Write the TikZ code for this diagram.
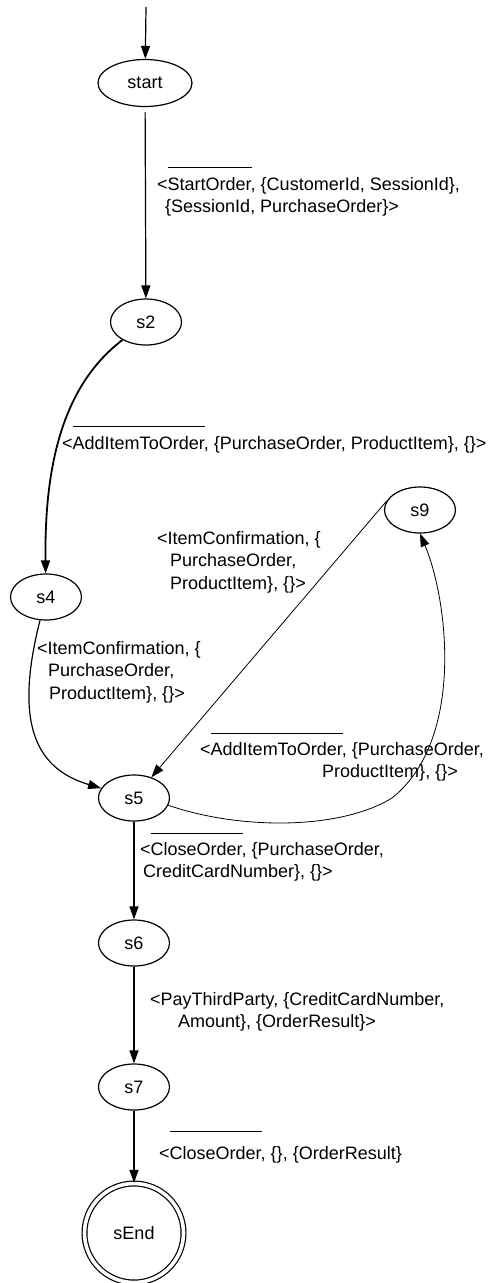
\documentclass[tikz,border=0pt]{standalone}
\usepackage{fontspec}
\setmainfont{Liberation Sans}
\usepackage{tikz}
\usetikzlibrary{arrows.meta}
\usetikzlibrary{shapes.geometric}
\tikzset{>={Triangle[length=13pt, width=9pt]}}
\tikzstyle{st} = [ellipse, draw=black, line width=1.2pt, minimum width=71pt, minimum height=46pt, inner sep=0]
\tikzstyle{lbl} = [draw=none, anchor=north west, inner sep=0, align=left]
\newlength{\olen}
\newcommand{\outmsg}[2][9pt]{\settowidth{\olen}{#2}\rlap{\raisebox{\dimexpr 12.9pt+#1\relax}[0pt][0pt]{\rule{\olen}{1.5pt}}}#2}

\begin{document}
\begin{tikzpicture}[x=1pt, y=-1pt, font=\fontsize{18}{22.5}\selectfont]
\useasboundingbox (0, 0) rectangle (497, 1283);
\node [st, minimum width=94pt, minimum height=47pt] (start) at (145, 83) {start};
\node [st] (s2) at (146, 322) {s2};
\node [st] (s4) at (46, 597) {s4};
\node [st] (s9) at (420, 510) {s9};
\node [st] (s5) at (134, 798) {s5};
\node [st] (s6) at (134, 943) {s6};
\node [st] (s7) at (134, 1087) {s7};
\node [circle, draw=black, line width=1.2pt, double, double distance=3.6pt, minimum size=99pt, inner sep=0] (sEnd) at (134, 1233) {sEnd};
\coordinate (init) at (146, 7);
\coordinate (kink) at (392, 798);
\draw [->, line width=1.2pt] (init) -- (start);
\draw [->, line width=1.2pt, shorten <=5pt] (start) -- (s2);
\draw [->, line width=1.8pt] (s2) .. controls (70, 380) and (44, 450) .. (s4);
\draw [->, line width=1.2pt] (s4) .. controls (12, 730) and (40, 770) .. (s5);
\draw [->, line width=0.8pt] (s9.165) -- (s5.50);
\draw [->, line width=0.8pt] (s5.-12) .. controls (240, 830) and (340, 830) .. (kink) .. controls (465, 740) and (448, 600) .. (s9.south);
\draw [->, line width=1.2pt] (s5) -- (s6);
\draw [->, line width=1.2pt] (s6) -- (s7);
\draw [->, line width=1.2pt] (s7) -- (sEnd);
% transition labels
\node [lbl] (t1) at (157, 177) {<\outmsg{StartOrder}, \{CustomerId, SessionId\},\\ \hspace*{8pt}\{SessionId, PurchaseOrder\}>};
\node [lbl] (t2) at (62, 436) {<\outmsg{AddItemToOrder}, \{PurchaseOrder, ProductItem\}, \{\}>};
\node [lbl] (t3) at (37, 641) {<ItemConfirmation, \{\\ \hspace*{11pt}PurchaseOrder,\\ \hspace*{12pt}ProductItem\}, \{\}>};
\node [lbl] (t4) at (157, 531) {<ItemConfirmation, \{\\ \hspace*{13pt}PurchaseOrder,\\ \hspace*{13pt}ProductItem\}, \{\}>};
\node [lbl] (t5) at (200, 742) {<\outmsg[8pt]{AddItemToOrder}, \{PurchaseOrder,\\ \hspace*{122pt}ProductItem\}, \{\}>};
\node [lbl] (t6) at (140, 842) {<\outmsg[8pt]{CloseOrder}, \{PurchaseOrder,\\ \hspace*{3pt}CreditCardNumber\}, \{\}>};
\node [lbl] (t7) at (150, 992) {<PayThirdParty, \{CreditCardNumber,\\ \hspace*{28pt}Amount\}, \{OrderResult\}>};
\node [lbl] (t8) at (159, 1146) {<\outmsg[14pt]{CloseOrder}, \{\}, \{OrderResult\}};
\end{tikzpicture}
\end{document}
